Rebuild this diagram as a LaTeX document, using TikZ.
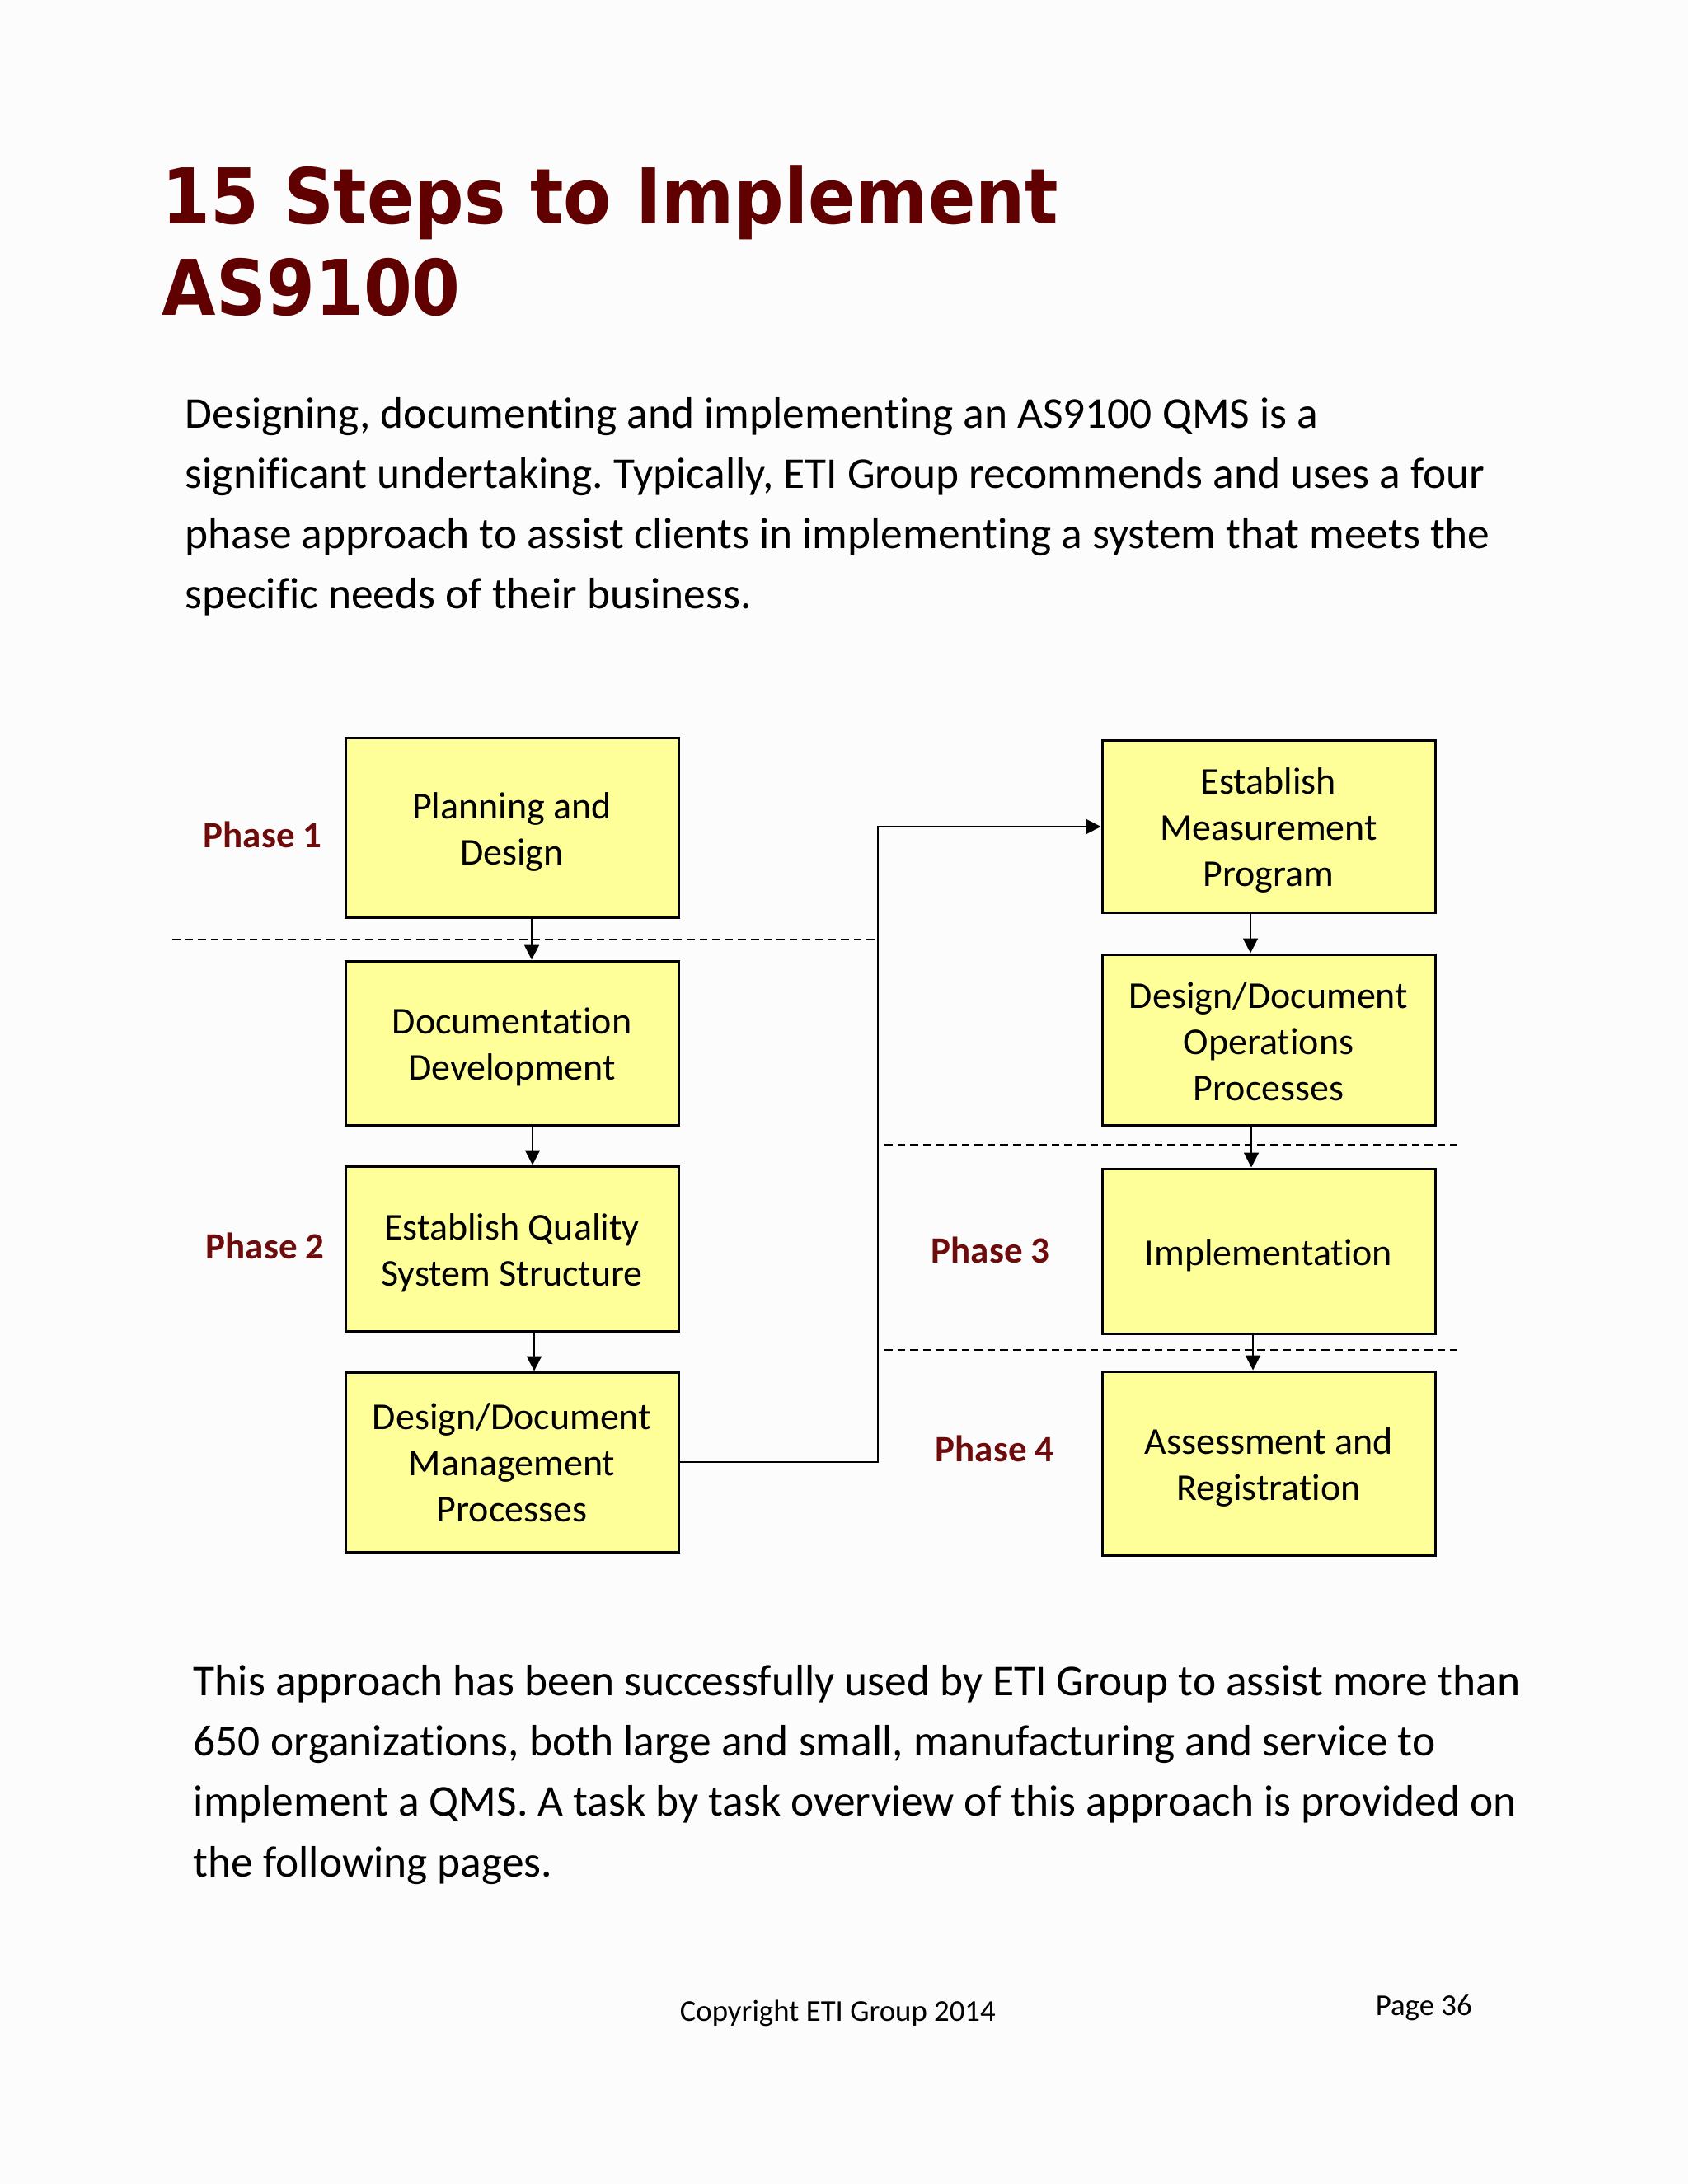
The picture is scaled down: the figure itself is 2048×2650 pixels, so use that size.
\documentclass[tikz,border=0pt]{standalone}
\usepackage{fontspec}
\setmainfont{Carlito}[Ligatures=NoCommon]
\newfontfamily\titlefont[FakeStretch=0.908]{DejaVu Sans Bold}
\usetikzlibrary{arrows.meta}
\frenchspacing
\definecolor{titlered}{RGB}{96,0,0}
\definecolor{phasered}{RGB}{110,12,12}
\definecolor{boxyellow}{RGB}{255,255,153}
\definecolor{pagebg}{RGB}{252,252,253}
\newcommand{\steptext}[2][1.5pt]{\raisebox{-#1}[\height][\depth]{\begin{tabular}{@{}c@{}}#2\end{tabular}}}
\tikzset{
  stepbox/.style={draw=black, fill=boxyellow, line width=0.75pt, minimum width=101pt,
    inner sep=0pt, font=\fontsize{11.5}{14}\selectfont},
  phaselbl/.style={anchor=base west, inner sep=0pt, text=phasered,
    font=\fontsize{11.25}{13.5}\selectfont\bfseries},
  bodyline/.style={anchor=base west, inner sep=0pt, font=\fontsize{13.35}{18.3}\selectfont},
  titleline/.style={anchor=base west, inner sep=0pt, text=titlered,
    font=\titlefont\fontsize{23.3}{28}\selectfont},
  footline/.style={anchor=base west, inner sep=0pt, font=\fontsize{9.2}{11}\selectfont},
  flow/.style={line width=0.5pt, -{Triangle[length=4.5pt,width=4.5pt]}},
  phasesep/.style={line width=0.5pt, dash pattern=on 2.4pt off 1.5pt}
}
\begin{document}
\begin{tikzpicture}[x=0.25pt,y=-0.25pt]
\fill[pagebg] (0,0) rectangle (2048,2650);
\useasboundingbox (0,0) rectangle (2048,2650);

% title
\node[titleline] (t1) at (196,272) {15 Steps to Implement};
\node[titleline] (t2) at (196,383) {AS9100};

% intro paragraph
\node[bodyline] (p1) at (224,520) {Designing, documenting and implementing an AS9100 QMS is a};
\node[bodyline] (p2) at (224,593) {significant undertaking. Typically, ETI Group recommends and uses a four};
\node[bodyline] (p3) at (224,666) {phase approach to assist clients in implementing a system that meets the};
\node[bodyline] (p4) at (224,739) {specific needs of their business.};

% step boxes
\node[stepbox, minimum height=54.25pt] (pd)  at (621,1004.5) {\steptext{Planning and\\Design}};
\node[stepbox, minimum height=49.75pt] (doc) at (621,1265.5) {\steptext{Documentation\\Development}};
\node[stepbox, minimum height=50pt]    (eqs) at (621,1515)   {\steptext{Establish Quality\\System Structure}};
\node[stepbox, minimum height=54.5pt]  (ddm) at (621,1774)   {\steptext[1.3pt]{Design/Document\\Management\\Processes}};
\node[stepbox, minimum height=52pt]    (emp) at (1539,1003)  {\steptext[1.25pt]{Establish\\Measurement\\Program}};
\node[stepbox, minimum height=51.75pt] (ddo) at (1539,1261.5){\steptext[1.6pt]{Design/Document\\Operations\\Processes}};
\node[stepbox, minimum height=50pt]    (imp) at (1539,1518)  {\steptext{Implementation}};
\node[stepbox, minimum height=55.75pt] (ar)  at (1539,1775.5){\steptext{Assessment and\\Registration}};

% phase labels
\node[phaselbl] (ph1) at (246,1028) {Phase 1};
\node[phaselbl] (ph2) at (249,1527) {Phase 2};
\node[phaselbl] (ph3) at (1129,1532) {Phase 3};
\node[phaselbl] (ph4) at (1134,1773) {Phase 4};

% phase separators
\coordinate (vx) at (1065,1400);
\coordinate (s1a) at (209,1140);
\coordinate (s2a) at (1073,1389);
\coordinate (s2b) at (1768,1389);
\coordinate (s3a) at (1073,1638);
\coordinate (s3b) at (1768,1638);
\draw[phasesep] (s1a) -- (s1a -| vx);
\draw[phasesep] (s2a) -- (s2b);
\draw[phasesep] (s3a) -- (s3b);

% connectors
\draw[flow] ([xshift=6pt]pd.south) -- ([xshift=6pt]doc.north);
\draw[flow] ([xshift=6.25pt]doc.south) -- ([xshift=6.25pt]eqs.north);
\draw[flow] ([xshift=6.75pt]eqs.south) -- ([xshift=6.75pt]ddm.north);
\draw[flow] (ddm.east) -- (ddm.east -| vx) |- (emp.west);
\draw[flow] ([xshift=-5.5pt]emp.south) -- ([xshift=-5.5pt]ddo.north);
\draw[flow] ([xshift=-5.25pt]ddo.south) -- ([xshift=-5.25pt]imp.north);
\draw[flow] ([xshift=-4.75pt]imp.south) -- ([xshift=-4.75pt]ar.north);

% closing paragraph
\node[bodyline] (q1) at (234,2057) {This approach has been successfully used by ETI Group to assist more than};
\node[bodyline] (q2) at (234,2130) {650 organizations, both large and small, manufacturing and service to};
\node[bodyline] (q3) at (234,2203) {implement a QMS. A task by task overview of this approach is provided on};
\node[bodyline] (q4) at (234,2277) {the following pages.};

% footer
\node[footline] (cp) at (824,2452) {Copyright ETI Group 2014};
\node[footline] (pg) at (1668,2445) {Page 36};
\end{tikzpicture}
\end{document}
